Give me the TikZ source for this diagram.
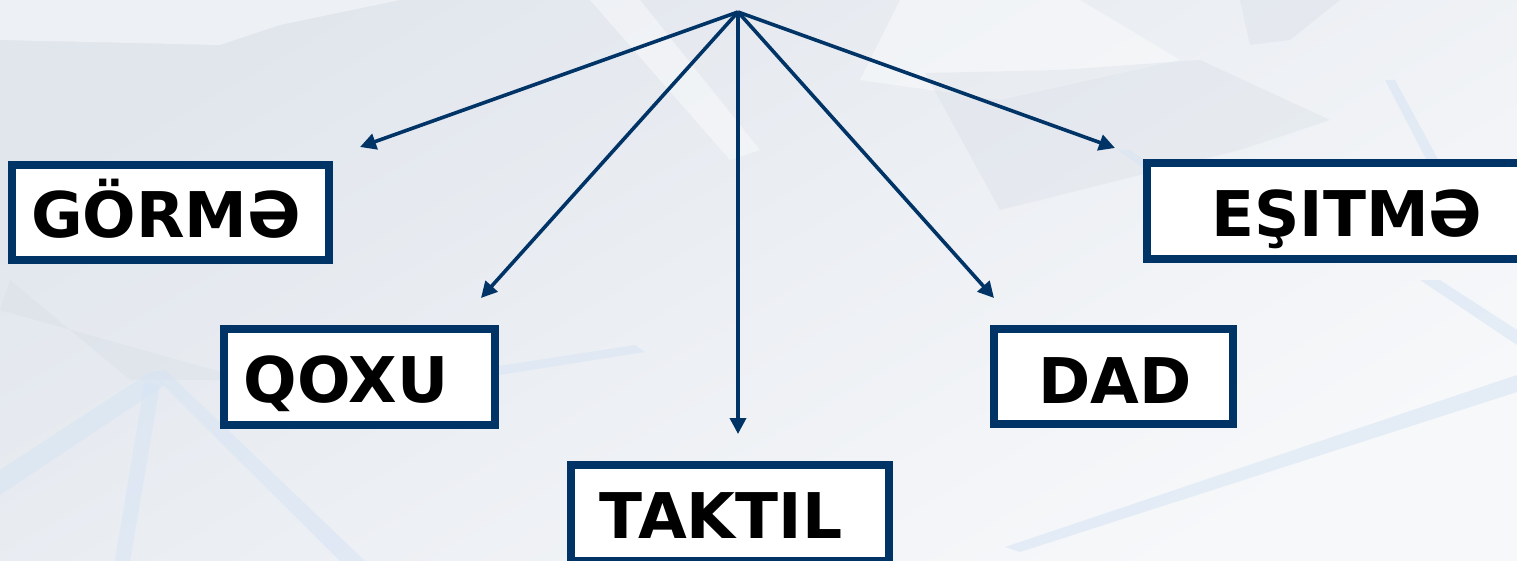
\documentclass[tikz,border=0pt]{standalone}
\usepackage{fontspec}
\setmainfont{DejaVu Sans}
\usetikzlibrary{arrows.meta}
\definecolor{navy}{RGB}{0,51,102}
\definecolor{bgA}{RGB}{225,230,237}
\definecolor{bgB}{RGB}{247,248,250}
\definecolor{streak}{RGB}{214,228,244}
\definecolor{darkpat}{RGB}{212,219,228}
\tikzset{
  sensebox/.style={draw=navy, line width=8pt, fill=white, rectangle,
    inner sep=0pt, outer sep=0pt},
  senselabel/.style={anchor=base, inner sep=0pt, text=black,
    font=\bfseries\fontsize{63pt}{70pt}\selectfont},
  link/.style={draw=navy, line width=3.6pt,
    -{Triangle[length=16pt,width=16pt]}},
  band/.style={fill=streak, opacity=0.55, draw=none},
  shadowpatch/.style={fill=darkpat, opacity=0.3, draw=none},
  lightpatch/.style={fill=white, opacity=0.4, draw=none}
}
\begin{document}
\begin{tikzpicture}[x=1pt, y=-1pt]
\useasboundingbox (0,0) rectangle (1517,561);
\clip (0,0) rectangle (1517,561);
% background
\shade[top color=bgA, bottom color=bgB, shading angle=30] (0,0) rectangle (1517,561);
\path[lightpatch] (0,0) -- (400,0) -- (280,25) -- (220,45) -- (0,40) -- cycle;
\path[lightpatch] (590,0) -- (640,0) -- (760,150) -- (730,160) -- cycle;
\path[lightpatch] (900,0) -- (1080,0) -- (1180,60) -- (1000,100) -- (860,80) -- cycle;
\path[shadowpatch] (925,73) -- (1060,70) -- (1200,60) -- (1330,120) -- (1240,150) -- (1000,210) -- cycle;
\path[shadowpatch] (10,280) -- (70,330) -- (130,380) -- (250,380) -- (0,310) -- cycle;
\path[shadowpatch] (1240,0) -- (1340,0) -- (1290,40) -- (1250,45) -- cycle;
\path[band] (150,372) -- (0,470) -- (0,495) -- (165,385) -- cycle;
\path[band] (150,372) -- (165,370) -- (365,561) -- (340,561) -- cycle;
\path[band] (145,380) -- (160,385) -- (130,561) -- (115,561) -- cycle;
\path[band] (499,366) -- (635,345) -- (645,352) -- (499,375) -- cycle;
\path[band] (1005,547) -- (1517,375) -- (1517,392) -- (1020,552) -- cycle;
\path[band] (1420,280) -- (1440,280) -- (1517,330) -- (1517,345) -- cycle;
\path[band] (1385,80) -- (1395,80) -- (1460,200) -- (1450,205) -- cycle;
\path[band] (1130,150) -- (1143,159) -- (1143,168) -- (1118,150) -- cycle;
% boxes
\node[sensebox, minimum width=317pt, minimum height=95pt] (gorme) at (170.5,212.5) {};
\node[sensebox, minimum width=271pt, minimum height=96pt] (qoxu) at (359.5,377) {};
\node[sensebox, minimum width=318pt, minimum height=96pt] (taktil) at (730,513) {};
\node[sensebox, minimum width=239pt, minimum height=95pt] (dad) at (1113.5,376.5) {};
\node[sensebox, minimum width=399pt, minimum height=96pt] (esitme) at (1346.5,211) {};
% labels
\node[senselabel] (lgorme) at (166,238) {GÖRMƏ};
\node[senselabel] (lqoxu) at (346,402) {QOXU};
\node[senselabel] (ltaktil) at (721,538) {TAKTIL};
\node[senselabel] (ldad) at (1115,403) {DAD};
\node[senselabel] (lesitme) at (1347,237) {EŞITMƏ};
% connectors
\coordinate (apex) at (738,12);
\coordinate (tg) at (360,147);
\coordinate (tq) at (481,298);
\coordinate (tt) at (738,434);
\coordinate (td) at (994,298);
\coordinate (te) at (1115,148);
\draw[link] (apex) -- (tg);
\draw[link] (apex) -- (tq);
\draw[link] (apex) -- (tt);
\draw[link] (apex) -- (td);
\draw[link] (apex) -- (te);
\end{tikzpicture}
\end{document}
